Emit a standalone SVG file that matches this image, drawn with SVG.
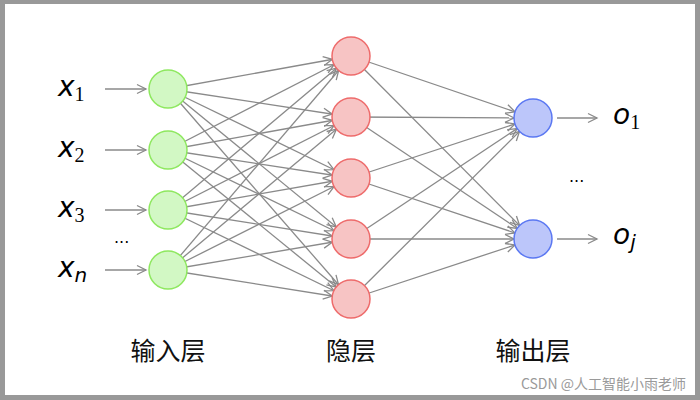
<svg xmlns="http://www.w3.org/2000/svg" width="700" height="400" viewBox="0 0 700 400">
<defs>
<style>
.in{fill:#d2f8c4;stroke:#8ee85f;stroke-width:1.5}
.hd{fill:#f7c4c4;stroke:#ee6b6b;stroke-width:1.5}
.out{fill:#bcc6fa;stroke:#5b78f2;stroke-width:1.5}
.c line{stroke:#8a8a8a;stroke-width:1.3}
.e{marker-end:url(#ae)}
.p{marker-end:url(#ap)}
.m{font-family:"DejaVu Sans",sans-serif;font-style:oblique;font-size:28px;fill:#000}
.s{font-family:"Liberation Serif",serif;font-size:20px;font-style:normal}
.lab{font-family:"Noto Sans CJK SC",sans-serif;font-size:25px;fill:#111;text-anchor:middle}
.dot{font-family:"DejaVu Sans",sans-serif;font-size:16px;fill:#000}
</style>
<marker id="ae" markerUnits="userSpaceOnUse" markerWidth="40" markerHeight="40" refX="19" refY="0" orient="auto" overflow="visible"><path d="M-9,-4.5 L0,0 L-9,4.5" fill="none" stroke="#8a8a8a" stroke-width="1.3"/></marker>
<marker id="ap" markerUnits="userSpaceOnUse" markerWidth="40" markerHeight="40" refX="0" refY="0" orient="auto" overflow="visible"><path d="M-9,-4.5 L0,0 L-9,4.5" fill="none" stroke="#8a8a8a" stroke-width="1.3"/></marker>
</defs>
<rect x="0" y="0" width="700" height="400" fill="#999"/>
<rect x="5" y="4" width="690" height="391" fill="#fff"/>
<g id="connectors" class="c">
<line class="p" x1="105" y1="89" x2="146" y2="89"/>
<line class="p" x1="105" y1="150" x2="146" y2="150"/>
<line class="p" x1="105" y1="210" x2="146" y2="210"/>
<line class="p" x1="105" y1="270" x2="146" y2="270"/>
<line class="p" x1="557" y1="118" x2="597" y2="118"/>
<line class="p" x1="557" y1="239" x2="597" y2="239"/>
<line class="e" x1="168" y1="89" x2="351" y2="56"/><line class="e" x1="168" y1="89" x2="351" y2="117"/><line class="e" x1="168" y1="89" x2="351" y2="178"/><line class="e" x1="168" y1="89" x2="351" y2="239"/><line class="e" x1="168" y1="89" x2="351" y2="299"/>
<line class="e" x1="168" y1="150" x2="351" y2="56"/><line class="e" x1="168" y1="150" x2="351" y2="117"/><line class="e" x1="168" y1="150" x2="351" y2="178"/><line class="e" x1="168" y1="150" x2="351" y2="239"/><line class="e" x1="168" y1="150" x2="351" y2="299"/>
<line class="e" x1="168" y1="210" x2="351" y2="56"/><line class="e" x1="168" y1="210" x2="351" y2="117"/><line class="e" x1="168" y1="210" x2="351" y2="178"/><line class="e" x1="168" y1="210" x2="351" y2="239"/><line class="e" x1="168" y1="210" x2="351" y2="299"/>
<line class="e" x1="168" y1="270" x2="351" y2="56"/><line class="e" x1="168" y1="270" x2="351" y2="117"/><line class="e" x1="168" y1="270" x2="351" y2="178"/><line class="e" x1="168" y1="270" x2="351" y2="239"/><line class="e" x1="168" y1="270" x2="351" y2="299"/>
<line class="e" x1="351" y1="56" x2="533" y2="118"/><line class="e" x1="351" y1="117" x2="533" y2="118"/><line class="e" x1="351" y1="178" x2="533" y2="118"/><line class="e" x1="351" y1="239" x2="533" y2="118"/><line class="e" x1="351" y1="299" x2="533" y2="118"/>
<line class="e" x1="351" y1="56" x2="533" y2="239"/><line class="e" x1="351" y1="117" x2="533" y2="239"/><line class="e" x1="351" y1="178" x2="533" y2="239"/><line class="e" x1="351" y1="239" x2="533" y2="239"/><line class="e" x1="351" y1="299" x2="533" y2="239"/>
</g>
<g id="x1"><circle class="in" cx="168" cy="89" r="19"/></g>
<g id="x2"><circle class="in" cx="168" cy="150" r="19"/></g>
<g id="x3"><circle class="in" cx="168" cy="210" r="19"/></g>
<g id="xn"><circle class="in" cx="168" cy="270" r="19"/></g>
<g id="h1"><circle class="hd" cx="351" cy="56" r="19"/></g>
<g id="h2"><circle class="hd" cx="351" cy="117" r="19"/></g>
<g id="h3"><circle class="hd" cx="351" cy="178" r="19"/></g>
<g id="h4"><circle class="hd" cx="351" cy="239" r="19"/></g>
<g id="h5"><circle class="hd" cx="351" cy="299" r="19"/></g>
<g id="o1"><circle class="out" cx="533" cy="118" r="19"/></g>
<g id="oj"><circle class="out" cx="533" cy="239" r="19"/></g>
<g id="labels">
<text class="m" x="58" y="96">x<tspan class="s" dy="5">1</tspan></text>
<text class="m" x="58" y="157">x<tspan class="s" dy="5">2</tspan></text>
<text class="m" x="58" y="217">x<tspan class="s" dy="5">3</tspan></text>
<text class="m" x="58" y="277">x<tspan class="m" style="font-size:20px" dy="5">n</tspan></text>
<text class="m" x="613" y="124">o<tspan class="s" dy="5">1</tspan></text>
<text class="m" x="613" y="244">o<tspan class="m" style="font-size:20px" dy="5">j</tspan></text>
<text class="dot" x="114" y="243">...</text>
<text class="dot" x="569" y="182">...</text>
<text class="lab" x="168" y="360">输入层</text>
<text class="lab" x="351" y="360">隐层</text>
<text class="lab" x="533" y="360">输出层</text>
<text x="686" y="389" text-anchor="end" font-family="Noto Sans CJK SC, sans-serif" font-size="14" fill="#9a9a9a">CSDN @人工智能小雨老师</text>
</g>
</svg>
